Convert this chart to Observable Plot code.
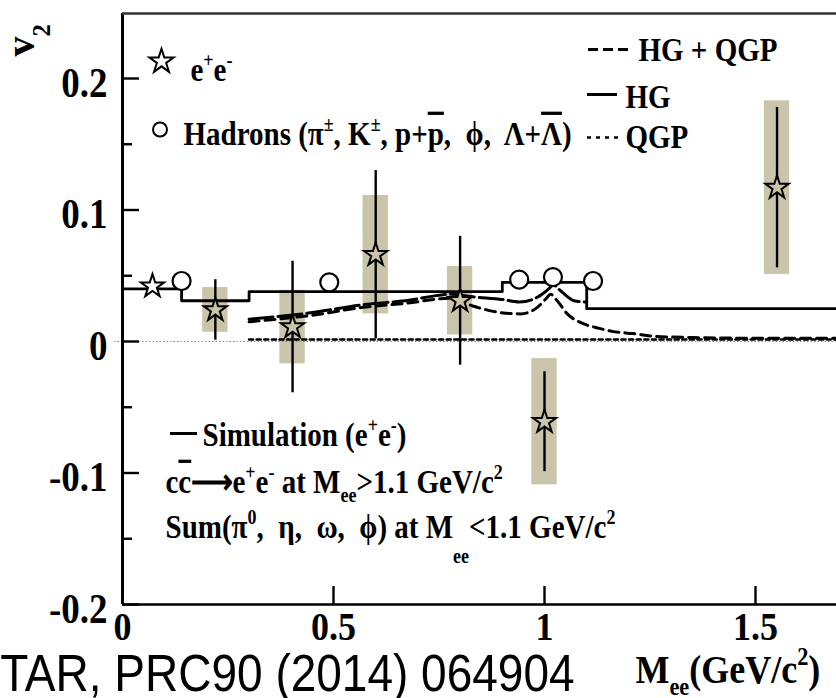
<!DOCTYPE html>
<html><head><meta charset="utf-8">
<script src="https://cdn.jsdelivr.net/npm/d3@7"></script>
<script src="https://cdn.jsdelivr.net/npm/@observablehq/plot@0.6"></script>
<style>
body{margin:0;background:#fff;}
#chart{width:836px;height:698px;overflow:hidden;}
</style>
</head><body><div id="chart"></div>
<script>
// ---------- data ----------
// dielectron (e+e-) v2 points
const eeMass = [0.071, 0.22, 0.403, 0.60, 0.80, 1.00, 1.551];
const eeV2   = [0.042, 0.024, 0.011, 0.066, 0.031, -0.061, 0.117];
const eeStat = [0.004, 0.023, 0.050, 0.064, 0.049, 0.038, 0.061];
const eeSys  = [0, 0.017, 0.028, 0.045, 0.026, 0.048, 0.066];
// hadrons
const hadMass = [0.14, 0.49, 0.94, 1.02, 1.115];
const hadV2   = [0.046, 0.045, 0.047, 0.049, 0.046];
// simulation cocktail (step histogram, value per bin starting at edge)
const simEdges = [0, 0.14, 0.30, 0.90, 1.10, 1.70];
const simV2    = [0.040, 0.031, 0.038, 0.045, 0.025, 0.025];
// HG model
const hgMass = [0.30, 0.45, 0.57, 0.67, 0.78, 0.83, 0.90, 0.94, 0.985, 1.01, 1.02, 1.04, 1.07, 1.10];
const hgV2   = [0.017, 0.022, 0.028, 0.031, 0.036, 0.034, 0.032, 0.030, 0.034, 0.040, 0.043, 0.038, 0.031, 0.030];
// HG + QGP model
const hqMass = [0.30, 0.45, 0.57, 0.67, 0.78, 0.83, 0.896, 0.943, 0.983, 1.005, 1.014, 1.03, 1.054, 1.085, 1.13, 1.16, 1.21, 1.26, 1.35, 1.5, 1.7];
const hqV2   = [0.015, 0.020, 0.026, 0.029, 0.033, 0.027, 0.022, 0.021, 0.026, 0.033, 0.036, 0.031, 0.021, 0.0145, 0.010, 0.0077, 0.006, 0.004, 0.003, 0.0025, 0.0025];
// QGP model
const qgpMass = [0.30, 0.60, 1.00, 1.30, 1.70];
const qgpV2   = [0.0015, 0.0015, 0.0015, 0.0015, 0.0015];
// ticks
const yTicks = [0.2, 0.1, 0, -0.1, -0.2];
const yTickLabels = ["0.2", "0.1", "0", "-0.1", "-0.2"];
const yMinorTicks = [0.15, 0.05, -0.05, -0.15];
const xTicks = [0, 0.5, 1, 1.5];
const xTickLabels = ["0", "0.5", "1", "1.5"];
// texts  (^{} superscript, _{} subscript, ~{} low subscript, ={} overline)
const legendTexts = ["e^{+}e^{-}", "Hadrons (\u03C0^{\u00B1}, K^{\u00B1}, p+={p},  \u03D5,  \u039B+={\u039B})", "HG + QGP", "HG", "QGP"];
const simTexts = ["Simulation (e^{+}e^{-})", "c={c}\u27F6e^{+}e^{-} at M_{ee}>1.1 GeV/c^{2}", "Sum(\u03C0^{0},  \u03B7,  \u03C9,  \u03D5) at M~{ee}<1.1 GeV/c^{2}"];
const xTitle = "M_{ee}(GeV/c^{2})";
const yTitle = "v_{2}";
const caption = "STAR, PRC90 (2014) 064904";

// ---------- build ----------
const ee = eeMass.map((m, i) => ({m, v: eeV2[i], stat: eeStat[i], sys: eeSys[i]}));
const had = hadMass.map((m, i) => ({m, v: hadV2[i]}));
const sim = simEdges.map((m, i) => ({m, v: simV2[i]}));
const hg = hgMass.map((m, i) => ({m, v: hgV2[i]}));
const hq = hqMass.map((m, i) => ({m, v: hqV2[i]}));
const qgp = qgpMass.map((m, i) => ({m, v: qgpV2[i]}));

// layout (pixel frame)
const W = 836, H = 698, ML = 122, MT = 13, MB = 94;
const KX = 422, KY = 1315;           // pixels per unit
const xMax = (W - ML) / KX;
const yMin = -0.2, yMax = -0.2 + (H - MB - MT) / KY;
const fx = p => (p - ML) / KX;
const fy = p => (H - MB - p) / KY + yMin;

const boxColor = "#cac5aa";
const serif = "Liberation Serif";
const T = (text, xp, yp, o = {}) => Plot.text([text], {
  x: fx(xp), y: fy(yp), text: d => d, textAnchor: "start", lineAnchor: "bottom",
  fontFamily: serif, fontWeight: "bold", fontSize: 29, fill: "black", ...o
});

const plot = Plot.plot({
  width: W, height: H,
  marginLeft: ML, marginRight: 0, marginTop: MT, marginBottom: MB,
  x: {domain: [0, xMax], axis: null},
  y: {domain: [yMin, yMax], axis: null},
  style: {background: "white"},
  marks: [
    // systematic boxes
    Plot.rect(ee.filter(d => d.sys > 0), {x1: d => d.m - 0.03, x2: d => d.m + 0.03, y1: d => d.v - d.sys, y2: d => d.v + d.sys, fill: boxColor}),
    // zero line
    Plot.ruleY([0], {x1: fx(114), x2: xMax, stroke: "#888", strokeWidth: 1, strokeDasharray: "1.5,2"}),
    // models
    Plot.line(qgp, {x: "m", y: "v", stroke: "black", strokeWidth: 2.6, strokeDasharray: "4,3.6"}),
    Plot.line(hq, {x: "m", y: "v", stroke: "black", strokeWidth: 3, strokeDasharray: "10,6", curve: "monotone-x"}),
    Plot.line(hg, {x: "m", y: "v", stroke: "black", strokeWidth: 3, strokeDasharray: "24,5", curve: "monotone-x"}),
    // simulation step
    Plot.line(sim, {x: "m", y: "v", stroke: "black", strokeWidth: 2.8, curve: "step-after"}),
    // statistical error bars
    Plot.ruleX(ee, {x: "m", y1: d => d.v - d.stat, y2: d => d.v + d.stat, stroke: "black", strokeWidth: 2.4}),
    // hadrons
    Plot.dot(had, {x: "m", y: "v", r: 9, stroke: "black", strokeWidth: 2.2, fill: "white"}),
    // e+e- stars
    Plot.dot(ee, {x: "m", y: "v", symbol: "star", r: 7.3, stroke: "black", strokeWidth: 2, fill: d => d.sys > 0 ? boxColor : "white"}),
    // frame
    Plot.ruleX([0], {stroke: "black", strokeWidth: 3}),
    Plot.ruleY([yMax], {stroke: "#333", strokeWidth: 2.6}),
    Plot.ruleY([yMin], {stroke: "black", strokeWidth: 2.6}),
    // ticks (inside)
    Plot.ruleY(yTicks, {x1: 0, x2: 17 / KX, stroke: "black", strokeWidth: 2.4}),
    Plot.ruleY(yMinorTicks, {x1: 0, x2: 10 / KX, stroke: "black", strokeWidth: 2.4}),
    Plot.ruleX(xTicks.filter(d => d > 0), {y1: yMin, y2: yMin + 18 / KY, stroke: "black", strokeWidth: 2.4}),
    // tick labels
    Plot.text(yTicks, {x: 0, y: d => d, text: (d, i) => yTickLabels[i], textAnchor: "end", lineAnchor: "bottom", dx: -15, dy: 18, fontFamily: serif, fontWeight: "bold", fontSize: 37, fill: "black"}),
    Plot.text(xTicks, {x: d => d, y: yMin, text: (d, i) => xTickLabels[i], textAnchor: "middle", lineAnchor: "bottom", dy: 35, fontFamily: serif, fontWeight: "bold", fontSize: 36, fill: "black"}),
    // axis titles
    T(xTitle, 635, 682, {fontSize: 36}),
    T(yTitle, 33, 56, {fontSize: 40, rotate: -90}),
    // top legend
    Plot.dot([0], {x: fx(161), y: fy(61), symbol: "star", r: 7.6, stroke: "black", strokeWidth: 2, fill: "white"}),
    T(legendTexts[0], 190, 80),
    Plot.dot([0], {x: fx(159.5), y: fy(129), r: 7, stroke: "black", strokeWidth: 2, fill: "white"}),
    T(legendTexts[1], 183, 144),
    Plot.ruleY([fy(49)], {x1: fx(588), x2: fx(628), stroke: "black", strokeWidth: 3, strokeDasharray: "10,5"}),
    T(legendTexts[2], 638, 60),
    Plot.ruleY([fy(94)], {x1: fx(587), x2: fx(617), stroke: "black", strokeWidth: 3}),
    T(legendTexts[3], 625, 107),
    Plot.ruleY([fy(137)], {x1: fx(587), x2: fx(621), stroke: "black", strokeWidth: 2.6, strokeDasharray: "4,5"}),
    T(legendTexts[4], 625, 147),
    // simulation legend
    Plot.ruleY([fy(433)], {x1: fx(170), x2: fx(197), stroke: "black", strokeWidth: 3}),
    T(simTexts[0], 202, 445),
    T(simTexts[1], 165, 492),
    T(simTexts[2], 165, 537),
    // caption
    T(caption, -31, 690, {fontFamily: "Liberation Sans", fontWeight: "normal", fontSize: 46})
  ]
});

// ---------- rich text (super/subscripts, overlines) and vertical stretch ----------
const NS = "http://www.w3.org/2000/svg";
const STRETCH = 1.13;
function richify(el, s, fs, subShift) {
  const re = /([\^_~=])\{([^}]*)\}/g;
  const parts = []; let last = 0, m;
  while ((m = re.exec(s))) {
    if (m.index > last) parts.push({t: s.slice(last, m.index), k: ""});
    parts.push({t: m[2], k: m[1]});
    last = re.lastIndex;
  }
  if (last < s.length) parts.push({t: s.slice(last), k: ""});
  el.textContent = "";
  let off = 0;
  for (const p of parts) {
    const target = p.k === "^" ? -0.42 * fs : p.k === "_" ? subShift * fs : p.k === "~" ? 0.78 * fs : 0;
    const ts = document.createElementNS(NS, "tspan");
    if (target - off !== 0) ts.setAttribute("dy", target - off);
    off = target;
    if (p.k === "^" || p.k === "_" || p.k === "~") ts.setAttribute("font-size", 0.62 * fs);
    if (p.k === "=") ts.setAttribute("text-decoration", "overline");
    ts.textContent = p.t;
    el.appendChild(ts);
  }
}
d3.select(plot).selectAll("text").each(function () {
  const el = this;
  const s = el.textContent;
  el.style.whiteSpace = "pre";
  let fs = 29;
  let g = el.parentNode;
  while (g && g.getAttribute && !g.getAttribute("font-size")) g = g.parentNode;
  if (g && g.getAttribute) fs = parseFloat(g.getAttribute("font-size")) || fs;
  const tr = el.getAttribute("transform") || "";
  const rotated = /rotate/.test(tr);
  if (/[\^_~=]\{/.test(s)) richify(el, s, fs, rotated ? 0.42 : 0.3);
  if (!rotated) {
    const x = el.getAttribute("x"), y = el.getAttribute("y");
    if (x != null || y != null) {
      el.removeAttribute("x"); el.removeAttribute("y");
      el.setAttribute("transform", `${tr} translate(${x || 0},${y || 0}) scale(1,${STRETCH})`);
    } else {
      el.setAttribute("transform", `${tr} scale(1,${STRETCH})`);
    }
  }
});

document.getElementById("chart").appendChild(plot);
</script>
</body></html>
